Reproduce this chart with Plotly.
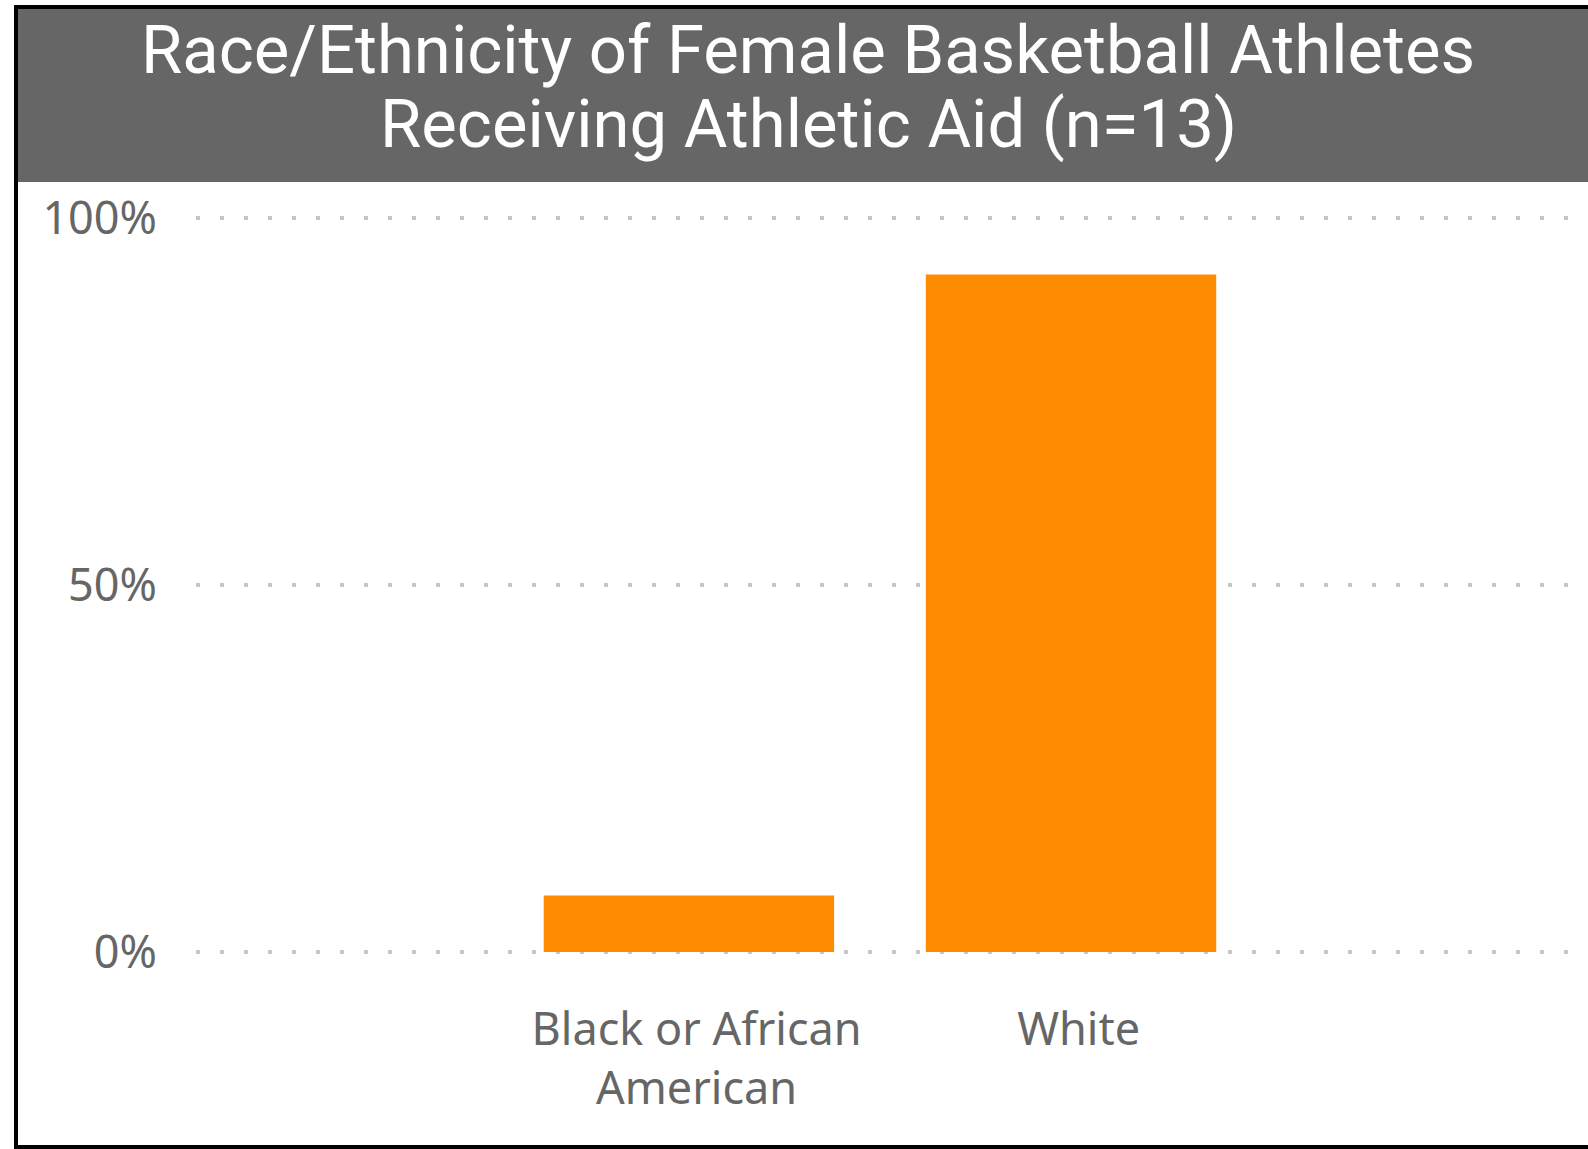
import plotly.graph_objects as go

categories = ["Black or African<br>American", "White"]
values = [1 / 13 * 100, 12 / 13 * 100]
tick_vals = [0, 50, 100]
tick_text = ["0%", "50%", "100%"]
title_lines = ["Race/Ethnicity of Female Basketball Athletes", "Receiving Athletic Aid (n=13)"]

W, H = 1588, 1149

def px(x):
    return x / W

def py(y):
    return 1 - y / H

# y axis: 0% at pixel 952, 100% at pixel 218
y_lo, y_hi = -1.0, 101.0
ppu = (952 - 218) / 100.0
dom_bottom = 952 + (0 - y_lo) * ppu
dom_top = 218 - (y_hi - 100) * ppu

bar_pos = [0, 1]
label_pos = [p + 0.02 for p in bar_pos]

fig = go.Figure()
fig.add_trace(go.Bar(
    x=bar_pos, y=values, width=0.76,
    marker=dict(color="#FF8C00", line=dict(width=0)),
    hoverinfo="skip",
))

label_font = dict(family="Noto Sans, Open Sans, sans-serif", size=45, color="#666666")

fig.update_layout(
    width=W, height=H,
    margin=dict(l=0, r=0, t=0, b=0, autoexpand=False),
    paper_bgcolor="white", plot_bgcolor="white",
    showlegend=False,
    xaxis=dict(
        domain=[px(196), 1.0],
        range=[-1.29, 2.353],
        tickmode="array", tickvals=label_pos, ticktext=categories,
        showgrid=False, zeroline=False, showline=False,
        ticks="", ticklabelstandoff=40, automargin=False,
        tickfont=label_font,
    ),
    yaxis=dict(
        domain=[py(dom_bottom), py(dom_top)],
        range=[y_lo, y_hi],
        tickmode="array", tickvals=tick_vals, ticktext=tick_text,
        showgrid=True, gridcolor="#C6C6C6", gridwidth=4, griddash="4px,20px",
        zeroline=False, showline=False,
        ticks="", ticklabelstandoff=38, automargin=False,
        tickfont=label_font,
    ),
)

shapes = [
    dict(type="rect", xref="paper", yref="paper", x0=px(18), x1=1.0, y0=py(182), y1=py(9),
         fillcolor="#666666", line=dict(width=0), layer="below"),
    dict(type="rect", xref="paper", yref="paper", x0=px(14), x1=px(18), y0=py(1149), y1=py(5),
         fillcolor="black", line=dict(width=0)),
    dict(type="rect", xref="paper", yref="paper", x0=px(14), x1=1.0, y0=py(9), y1=py(5),
         fillcolor="black", line=dict(width=0)),
    dict(type="rect", xref="paper", yref="paper", x0=px(14), x1=1.0, y0=py(1149), y1=py(1145),
         fillcolor="black", line=dict(width=0)),
]
fig.update_layout(shapes=shapes)

title_font = dict(family="Roboto, sans-serif", size=67, color="white")
for line, base in zip(title_lines, [76, 150]):
    fig.add_annotation(
        xref="paper", yref="paper", x=px(808), y=py(base + 15),
        xanchor="center", yanchor="bottom", showarrow=False,
        text=line, font=title_font,
    )

fig.write_html("out.html", config={"displayModeBar": False},
               post_script="document.body.style.margin='0';")
